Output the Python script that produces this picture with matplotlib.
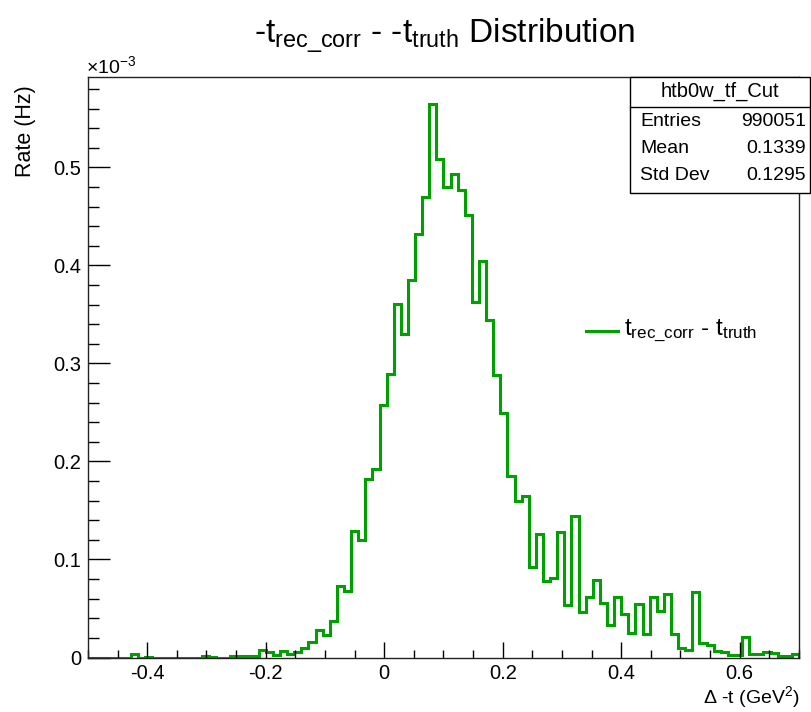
import numpy as np
import matplotlib
matplotlib.use('Agg')
import matplotlib.pyplot as plt
from matplotlib.patches import Rectangle
from matplotlib.lines import Line2D
from matplotlib.ticker import MultipleLocator, FuncFormatter

plt.rcParams['font.family'] = ['Liberation Sans', 'DejaVu Sans']
plt.rcParams['mathtext.fontset'] = 'custom'
plt.rcParams['mathtext.rm'] = 'Liberation Sans'
plt.rcParams['mathtext.it'] = 'Liberation Sans'
plt.rcParams['axes.unicode_minus'] = False

# 100 bins from -0.5 to 0.7 GeV^2
x_lo, x_hi, n_bins = -0.5, 0.7, 100
# rate per bin, in units of 1e-3 Hz
rate = [
    0, 0, 0, 0, 0, 0, 0.0033, 0, 0.0007, 0,
    0, 0, 0, 0, 0, 0, 0.002, 0.0007, 0, 0,
    0.0014, 0.0014, 0.0014, 0.0014, 0.0073, 0.0053, 0.003, 0.0065, 0.0036, 0.0059,
    0.0094, 0.016, 0.028, 0.023, 0.037, 0.073, 0.068, 0.129, 0.1196, 0.182,
    0.192, 0.258, 0.289, 0.361, 0.330, 0.385, 0.4325, 0.470, 0.565, 0.509,
    0.480, 0.493, 0.477, 0.452, 0.363, 0.405, 0.344, 0.288, 0.249, 0.185,
    0.160, 0.165, 0.092, 0.126, 0.078, 0.0815, 0.128, 0.054, 0.144, 0.046,
    0.062, 0.079, 0.056, 0.033, 0.062, 0.044, 0.025, 0.055, 0.024, 0.062,
    0.047, 0.0645, 0.024, 0.0094, 0.0077, 0.067, 0.0145, 0.0128, 0.007, 0.006,
    0.0026, 0.0026, 0.021, 0.0033, 0.0033, 0.006, 0.0043, 0.0018, 0.0018, 0.0036,
]

stats_name = 'htb0w_tf_Cut'
stats_rows = [('Entries', '990051'), ('Mean', '0.1339'), ('Std Dev', '0.1295')]

line_color = '#00a000'
W, H = 812, 712

fig = plt.figure(figsize=(W / 100, H / 100), dpi=100)
ax = fig.add_axes([88 / W, 1 - 657.5 / H, (799 - 88) / W, (657.5 - 77) / H])

edges = np.linspace(x_lo, x_hi, n_bins + 1)
ax.stairs(rate, edges, color=line_color, lw=2.2, baseline=0)

ax.set_xlim(x_lo, x_hi)
ax.set_ylim(0, 0.5923)

ax.xaxis.set_major_locator(MultipleLocator(0.2))
ax.xaxis.set_minor_locator(MultipleLocator(0.05))
ax.yaxis.set_major_locator(MultipleLocator(0.1))
ax.yaxis.set_minor_locator(MultipleLocator(0.02))
fmt = FuncFormatter(lambda v, p: '0' if abs(v) < 1e-9 else '%g' % round(v, 3))
ax.xaxis.set_major_formatter(fmt)
ax.yaxis.set_major_formatter(fmt)

ax.tick_params(axis='x', which='major', direction='in', length=11.5, width=1, pad=5, labelsize=14.5)
ax.tick_params(axis='x', which='minor', direction='in', length=5.8, width=1)
ax.tick_params(axis='y', which='major', direction='in', length=16, width=1, pad=5, labelsize=14.5)
ax.tick_params(axis='y', which='minor', direction='in', length=8, width=1)
ax.tick_params(top=False, right=False, which='both')
for s in ax.spines.values():
    s.set_linewidth(1)
    s.set_color('#222222')

# axis titles
fig.text(26 / W, 1 - 85 / H, 'Rate (Hz)', rotation=90, ha='center', va='top', fontsize=15.5)
fig.text(800 / W, 1 - 697 / H, 'Δ -t (GeV$^{2}$)', ha='right', va='center', fontsize=14)
fig.text(86 / W, 1 - 73 / H, r'$\times$10$^{-3}$', ha='left', va='baseline', fontsize=14)

# title
fig.text(445 / W, 1 - 43 / H,
         r'-t$_{\mathrm{rec\_corr}}$ - -t$_{\mathrm{truth}}$ Distribution',
         ha='center', va='baseline', fontsize=24)

# stats box
bx0, bx1, by0, by1 = 630, 810, 77, 193
fig.patches.append(Rectangle((bx0 / W, 1 - by1 / H), (bx1 - bx0) / W, (by1 - by0) / H,
                             transform=fig.transFigure, facecolor='white',
                             edgecolor='black', lw=1, zorder=5))
fig.lines.append(Line2D([bx0 / W, bx1 / W], [1 - 106.5 / H] * 2, transform=fig.transFigure,
                        color='black', lw=1, zorder=6))
fig.text((bx0 + bx1) / 2 / W, 1 - 91 / H, stats_name, ha='center', va='center',
         fontsize=14.5, zorder=7)
for i, (k, v) in enumerate(stats_rows):
    yy = 1 - (121 + 27.5 * i) / H
    fig.text(640 / W, yy, k, ha='left', va='center', fontsize=14, zorder=7)
    fig.text(806 / W, yy, v, ha='right', va='center', fontsize=14, zorder=7)

# legend entry
fig.lines.append(Line2D([586 / W, 618 / W], [1 - 331 / H] * 2, transform=fig.transFigure,
                        color=line_color, lw=2.2))
fig.text(624 / W, 1 - 331 / H, r't$_{\mathrm{rec\_corr}}$ - t$_{\mathrm{truth}}$',
         ha='left', va='center', fontsize=17.5)

fig.savefig('out.png', dpi=100)
